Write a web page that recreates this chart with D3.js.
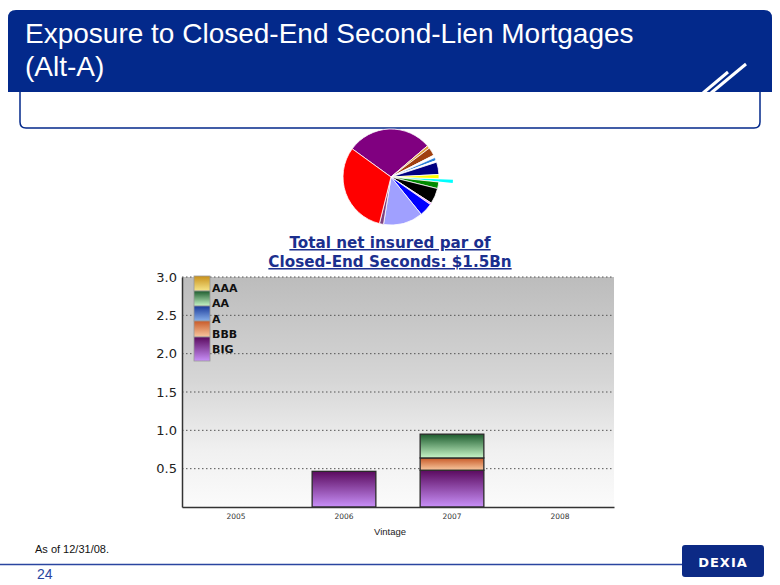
<!DOCTYPE html>
<html><head><meta charset="utf-8">
<script src="https://cdn.jsdelivr.net/npm/d3@7/dist/d3.min.js"></script>
<style>body{margin:0;background:#fff}svg{display:block}</style>
</head><body>
<svg id="c" width="780" height="585"></svg>
<script>
// ---- data ----
const vintages = ["2005", "2006", "2007", "2008"];
const ratings = ["AAA", "AA", "A", "BBB", "BIG"];
const valAAA = [0, 0, 0, 0];
const valAA = [0, 0, 0.31, 0];
const valA = [0, 0, 0, 0];
const valBBB = [0, 0, 0.16, 0];
const valBIG = [0, 0.465, 0.48, 0];
const yTicks = [0.5, 1.0, 1.5, 2.0, 2.5, 3.0];
const pieShares = [103.5, 3.5, 10, 3, 4, 2, 15, 5, 4, 8, 19, 2, 16, 48, 5, 112];
const titleLines = ["Exposure to Closed-End Second-Lien Mortgages", "(Alt-A)"];
const chartTitle = ["Total net insured par of", "Closed-End Seconds: $1.5Bn"];

// ---- styles ----
const pieColors = ["#800080","#e0a040","#a04010","#ffffff","#2a80d8","#ffffff","#000080","#ffff00","#00ffff","#008a00","#000000","#ff80ff","#0000ff","#a0a0ff","#804080","#ff0000"];
const explodedIndex = 8;
const ratingGrad = {
  AAA: ["#c8901a", "#f6e68a"],
  AA:  ["#1d5c2e", "#c8f6c8"],
  A:   ["#1a3a9a", "#88b0ea"],
  BBB: ["#c85a28", "#f8c8a0"],
  BIG: ["#5a0a5e", "#c890f8"]
};
const blue = "#03298b";

const svg = d3.select("#c");
const defs = svg.append("defs");

// ---- header ----
svg.append("path")
  .attr("d", "M8,92 L8,18 Q8,10 16,10 L764,10 Q772,10 772,18 L772,92 Z")
  .attr("fill", blue);
svg.append("path")
  .attr("d", "M20,92 L20,122 Q20,128 26,128 L754,128 Q760,128 760,122 L760,92")
  .attr("fill", "#fff").attr("stroke", blue).attr("stroke-width", 1.5);
svg.append("line").attr("x1", 703).attr("y1", 93).attr("x2", 728).attr("y2", 72)
  .attr("stroke", "#fff").attr("stroke-width", 3);
svg.append("line").attr("x1", 711).attr("y1", 93).attr("x2", 746).attr("y2", 64)
  .attr("stroke", "#fff").attr("stroke-width", 3);
svg.selectAll("text.hdr").data(titleLines).enter().append("text")
  .attr("class", "hdr")
  .attr("x", 25).attr("y", (d, i) => 43 + i * 33)
  .attr("fill", "#fff")
  .attr("font-family", "Liberation Sans, Arial, sans-serif")
  .attr("font-size", 28)
  .text(d => d);

// ---- pie ----
const pieCx = 391, pieCy = 177, pieR = 48;
const pie = d3.pie().sort(null).value(d => d)
  .startAngle(-54 * Math.PI / 180).endAngle(306 * Math.PI / 180);
const arcs = pie(pieShares);
const arcGen = d3.arc().innerRadius(0).outerRadius(pieR);
const pieG = svg.append("g").attr("transform", `translate(${pieCx},${pieCy})`);
const ex = arcs[explodedIndex];
const mid = (ex.startAngle + ex.endAngle) / 2;
pieG.append("path")
  .attr("d", arcGen(ex))
  .attr("transform", `translate(${Math.sin(mid) * 14},${-Math.cos(mid) * 14})`)
  .attr("fill", pieColors[explodedIndex]);
pieG.selectAll("path.sl").data(arcs.filter((d, i) => i !== explodedIndex)).enter()
  .append("path").attr("class", "sl")
  .attr("d", arcGen)
  .attr("fill", d => pieColors[d.index])
  .attr("stroke", "#fff").attr("stroke-width", 0.8);

// ---- chart title ----
svg.selectAll("text.ct").data(chartTitle).enter().append("text")
  .attr("class", "ct")
  .attr("x", 390).attr("y", (d, i) => 248 + i * 19)
  .attr("text-anchor", "middle")
  .attr("fill", "#1b2f8e")
  .attr("font-family", "DejaVu Sans, Verdana, sans-serif")
  .attr("font-weight", "bold")
  .attr("font-size", 15.2)
  .attr("text-decoration", "underline")
  .text(d => d);

// ---- bar chart ----
const plot = { l: 182, r: 614, t: 277, b: 507 };
const x = d3.scaleBand().domain(vintages).range([plot.l, plot.r]).paddingInner(0.41).paddingOuter(0.205);
const y = d3.scaleLinear().domain([0, 3]).range([plot.b, plot.t]);

const bgGrad = defs.append("linearGradient").attr("id", "bg")
  .attr("x1", 0).attr("y1", 0).attr("x2", 0).attr("y2", 1);
bgGrad.append("stop").attr("offset", "0%").attr("stop-color", "#bcbcbc");
bgGrad.append("stop").attr("offset", "45%").attr("stop-color", "#d6d6d6");
bgGrad.append("stop").attr("offset", "75%").attr("stop-color", "#f0f0f0");
bgGrad.append("stop").attr("offset", "100%").attr("stop-color", "#fbfbfb");
svg.append("rect").attr("x", plot.l).attr("y", plot.t)
  .attr("width", plot.r - plot.l).attr("height", plot.b - plot.t)
  .attr("fill", "url(#bg)");

svg.selectAll("line.grid").data(yTicks).enter().append("line")
  .attr("class", "grid")
  .attr("x1", plot.l).attr("x2", plot.r)
  .attr("y1", d => y(d)).attr("y2", d => y(d))
  .attr("stroke", "#555").attr("stroke-width", 1).attr("stroke-dasharray", "1.5,2.5");

ratings.forEach(r => {
  const g = defs.append("linearGradient").attr("id", "g" + r)
    .attr("x1", 0).attr("y1", 0).attr("x2", 0).attr("y2", 1);
  g.append("stop").attr("offset", "0%").attr("stop-color", ratingGrad[r][0]);
  g.append("stop").attr("offset", "100%").attr("stop-color", ratingGrad[r][1]);
});

const seriesVals = { AAA: valAAA, AA: valAA, A: valA, BBB: valBBB, BIG: valBIG };
const rows = vintages.map((v, i) => {
  const o = { vintage: v };
  ratings.forEach(r => o[r] = seriesVals[r][i]);
  return o;
});
const stackOrder = ["BIG", "BBB", "A", "AA", "AAA"];
const stacked = d3.stack().keys(stackOrder)(rows);
stacked.forEach(s => {
  svg.selectAll(null).data(s.filter(d => d[1] - d[0] > 0)).enter().append("rect")
    .attr("x", d => x(d.data.vintage))
    .attr("width", x.bandwidth())
    .attr("y", d => y(d[1]))
    .attr("height", d => y(d[0]) - y(d[1]))
    .attr("fill", `url(#g${s.key})`)
    .attr("stroke", "#2a2a2a").attr("stroke-width", 1.3);
});

const yAxis = d3.axisLeft(y).tickValues(yTicks).tickFormat(d3.format(".1f")).tickSize(0).tickPadding(5);
const yg = svg.append("g").attr("transform", `translate(${plot.l},0)`).call(yAxis);
yg.select(".domain").attr("stroke", "#333").attr("stroke-width", 1.5);
yg.selectAll("text").attr("font-family", "DejaVu Sans, Verdana, sans-serif")
  .attr("font-size", 13).attr("fill", "#222");

const xAxis = d3.axisBottom(x).tickSize(0).tickPadding(7);
const xg = svg.append("g").attr("transform", `translate(0,${plot.b})`).call(xAxis);
xg.select(".domain").attr("stroke", "#333").attr("stroke-width", 1.5);
xg.selectAll("text").attr("font-family", "DejaVu Sans, Verdana, sans-serif")
  .attr("font-size", 7.5).attr("fill", "#333");

svg.append("text").attr("x", 390).attr("y", 535).attr("text-anchor", "middle")
  .attr("font-family", "Liberation Sans, Arial, sans-serif").attr("font-size", 9.5)
  .attr("fill", "#222").text("Vintage");

const legRows = [
  { r: "AAA", y0: 276, h: 15 },
  { r: "AA", y0: 291, h: 15 },
  { r: "A", y0: 306, h: 15 },
  { r: "BBB", y0: 321, h: 16 },
  { r: "BIG", y0: 337, h: 24 }
];
legRows.forEach(d => {
  svg.append("rect").attr("x", 194).attr("y", d.y0).attr("width", 16).attr("height", d.h)
    .attr("fill", `url(#g${d.r})`).attr("stroke", "#999").attr("stroke-width", 0.8);
});
svg.selectAll("text.leg").data(ratings).enter().append("text")
  .attr("class", "leg")
  .attr("x", 212).attr("y", (d, i) => 292 + i * 15.3)
  .attr("font-family", "DejaVu Sans, Verdana, sans-serif")
  .attr("font-weight", "bold").attr("font-size", 11).attr("fill", "#111")
  .text(d => d);

// ---- footer ----
svg.append("text").attr("x", 35).attr("y", 553)
  .attr("font-family", "Liberation Sans Narrow, Arial Narrow, Liberation Sans, sans-serif")
  .attr("font-size", 11).attr("fill", "#111").text("As of 12/31/08.");
svg.append("line").attr("x1", 0).attr("x2", 682).attr("y1", 564.5).attr("y2", 564.5)
  .attr("stroke", "#2a45a0").attr("stroke-width", 1.5);
svg.append("text").attr("x", 37).attr("y", 579)
  .attr("font-family", "Liberation Sans, Arial, sans-serif")
  .attr("font-size", 14).attr("fill", "#2a45a0").text("24");
svg.append("rect").attr("x", 682).attr("y", 545).attr("width", 82).attr("height", 32)
  .attr("rx", 3).attr("fill", "#0c2a85");
svg.append("text").attr("x", 723).attr("y", 567).attr("text-anchor", "middle")
  .attr("font-family", "DejaVu Sans, Verdana, sans-serif").attr("font-weight", "bold")
  .attr("font-size", 13).attr("letter-spacing", 1).attr("fill", "#fff").text("DEXIA");
</script>
</body></html>
